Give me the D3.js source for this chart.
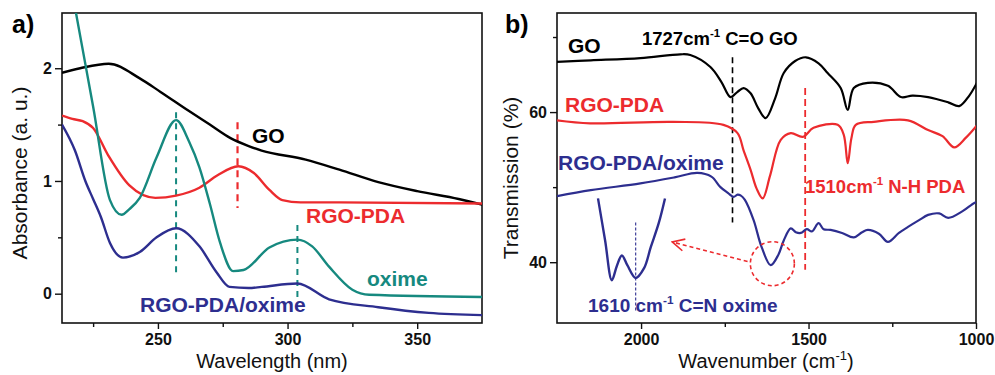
<!DOCTYPE html>
<html>
<head>
<meta charset="utf-8">
<script src="https://cdn.jsdelivr.net/npm/d3@7"></script>
<style>
  body { margin: 0; background: #fff; }
  text { font-family: "Liberation Sans", Arial, sans-serif; }
</style>
</head>
<body>
<div id="chart"></div>
<script>
let width = 995
let height = 375

// ---- panel a data (UV-vis)
let goWl = [213, 220, 231, 243, 251, 262, 270, 278, 285, 290, 307, 320, 335, 350, 366, 375]
let goAbs = [1.96, 2.0, 2.04, 1.91, 1.79, 1.62, 1.50, 1.38, 1.31, 1.27, 1.19, 1.10, 0.99, 0.91, 0.84, 0.79]

let pdaWl = [213, 217, 221, 225, 231, 239, 249, 257, 266, 273, 281, 287, 293, 298, 305, 320, 375]
let pdaAbs = [1.58, 1.55, 1.53, 1.47, 1.22, 0.96, 0.85, 0.87, 0.94, 1.05, 1.13, 1.07, 0.92, 0.83, 0.81, 0.81, 0.80]

let oxWl = [213, 218.4, 225, 231.5, 236, 239, 243, 249.5, 257, 262, 266, 270, 274, 279, 283, 293, 303.8, 309.5, 316, 325, 331.5, 375]
let oxAbs = [3.17, 2.49, 1.66, 0.83, 0.70, 0.75, 0.85, 1.21, 1.54, 1.35, 1.12, 0.80, 0.45, 0.20, 0.21, 0.41, 0.48, 0.42, 0.24, 0.035, -0.01, -0.03]

let mixWl = [213, 218, 222, 225, 228, 231.5, 236.5, 243, 249.5, 257, 266, 272.6, 277.6, 285, 290, 303.8, 316, 335, 354.5, 375]
let mixAbs = [1.50, 1.27, 1.0, 0.84, 0.68, 0.45, 0.32, 0.37, 0.50, 0.58, 0.42, 0.19, 0.06, 0.05, 0.06, 0.09, -0.05, -0.12, -0.17, -0.19]

let aTicks = [250, 300, 350]
let aMinor = [225, 275, 325]
let aYTicks = [0, 1, 2]
let aYMinor = [0.5, 1.5]

// ---- panel b data (FTIR)
let goWn = [2251, 2150, 2002, 1883, 1853, 1793, 1760, 1733, 1712, 1694, 1673, 1650, 1628, 1600, 1574, 1540, 1508, 1470, 1443, 1404, 1383, 1365, 1323, 1263, 1224, 1190, 1143, 1083, 1050, 1020, 996]
let goT = [66.7, 66.9, 67.2, 67.7, 67.6, 66.0, 64.0, 62.0, 62.7, 63.2, 62.5, 60.5, 59.2, 61.8, 65.2, 66.8, 67.3, 66.5, 65.2, 63.2, 60.3, 63.2, 63.9, 63.5, 62.0, 62.2, 62.0, 61.3, 60.8, 62.2, 64.0]

let pdaWn = [2251, 2152, 1904, 1754, 1712, 1694, 1673, 1655, 1637, 1615, 1583, 1553, 1517, 1485, 1413, 1395, 1383, 1372, 1359, 1305, 1203, 1143, 1100, 1065, 1030, 996]
let pdaT = [58.9, 58.5, 58.7, 58.3, 57.2, 54.9, 52.3, 49.8, 48.5, 51.5, 56.3, 57.2, 56.7, 57.9, 58.3, 57.0, 53.2, 56.5, 58.3, 58.7, 58.9, 57.6, 56.8, 55.3, 56.6, 58.3]

let mixWn = [2251, 2150, 2002, 1900, 1832, 1790, 1763, 1740, 1724, 1712, 1703, 1690, 1664, 1640, 1613, 1590, 1574, 1553, 1538, 1523, 1505, 1490, 1470, 1455, 1434, 1400, 1365, 1340, 1323, 1290, 1263, 1230, 1203, 1170, 1143, 1110, 1083, 1040, 1005, 996]
let mixT = [48.8, 49.6, 50.5, 51.3, 51.9, 51.4, 50.0, 49.2, 48.7, 49.0, 48.9, 48.3, 45.6, 42.0, 39.6, 41.0, 42.9, 44.5, 44.0, 43.9, 44.4, 44.1, 45.2, 44.4, 44.3, 43.9, 43.3, 44.0, 44.3, 43.8, 42.7, 43.9, 44.7, 45.6, 46.3, 46.5, 45.9, 46.8, 47.9, 48.0]

// inset: magnified band around 1610 cm-1
let insetWn = [1700, 1683, 1667, 1655, 1643, 1630, 1610, 1590, 1574, 1555, 1540]
let insetT = [48.5, 42.9, 37.6, 39.5, 40.9, 39.6, 37.9, 39.2, 42.0, 45.2, 48.5]

let bTicks = [2000, 1500, 1000]
let bMinor = [1750, 1250]
let bYTicks = [40, 60]
let bYMinor = [50, 70]

let cRed = '#ec2b2e'
let cTeal = '#16897f'
let cNavy = '#2d2e8f'

let svg = d3.select('#chart').append('svg')
  .attr('width', width)
  .attr('height', height)

// scales
let xA = d3.scaleLinear().domain([213, 375]).range([62, 482])
let yA = d3.scaleLinear().domain([-0.26, 2.49]).range([323, 13])
let xB = d3.scaleLinear().domain([2251, 1000]).range([557, 976])
let yB = d3.scaleLinear().domain([31.9, 73.2]).range([323, 13])
let xIn = d3.scaleLinear().domain([1700, 1540]).range([598, 665])

let defs = svg.append('defs')
defs.append('clipPath').attr('id', 'clipA').append('rect')
  .attr('x', 62).attr('y', 13).attr('width', 420).attr('height', 310)
defs.append('clipPath').attr('id', 'clipB').append('rect')
  .attr('x', 557).attr('y', 13).attr('width', 419).attr('height', 310)
defs.append('marker')
  .attr('id', 'arrowHead')
  .attr('viewBox', '0 0 14 14')
  .attr('refX', 13).attr('refY', 7)
  .attr('markerWidth', 14).attr('markerHeight', 14)
  .attr('markerUnits', 'userSpaceOnUse')
  .attr('orient', 'auto')
  .append('path')
  .attr('d', 'M1,1 L13,7 L1,13')
  .attr('fill', 'none')
  .attr('stroke', cRed)
  .attr('stroke-width', 1.6)

function drawAxes(x, y, xt, xm, yt, ym, fmt) {
  let g = svg.append('g')
  let b = y.range()[0], t = y.range()[1], l = x.range()[0], r = x.range()[1]
  g.append('g').attr('transform', `translate(0,${b})`)
    .call(d3.axisBottom(x).tickValues(xt).tickSize(6).tickSizeOuter(0).tickPadding(5).tickFormat(d3.format('d')))
  g.append('g').attr('transform', `translate(0,${b})`)
    .call(d3.axisBottom(x).tickValues(xm).tickSize(4).tickSizeOuter(0).tickFormat(''))
  g.append('g').attr('transform', `translate(${l},0)`)
    .call(d3.axisLeft(y).tickValues(yt).tickSize(7).tickSizeOuter(0).tickPadding(3).tickFormat(fmt))
  g.append('g').attr('transform', `translate(${l},0)`)
    .call(d3.axisLeft(y).tickValues(ym).tickSize(4).tickSizeOuter(0).tickFormat(''))
  g.selectAll('.domain').remove()
  g.selectAll('.tick line').attr('stroke', '#111').attr('stroke-width', 1.4)
  g.selectAll('.tick text')
    .style('font-family', '"Liberation Sans", Arial, sans-serif')
    .style('font-size', '16px').style('font-weight', 'bold').attr('fill', '#111')
  svg.append('rect')
    .attr('x', l).attr('y', t).attr('width', r - l).attr('height', b - t)
    .attr('fill', 'none').attr('stroke', '#111').attr('stroke-width', 1.6)
}

function drawLine(clip, x, y, xs, ys, color, w, curve) {
  let pts = xs.map((d, i) => [d, ys[i]])
  let line = d3.line().x(d => x(d[0])).y(d => y(d[1])).curve(curve || d3.curveCatmullRom.alpha(0.5))
  svg.append('path')
    .datum(pts)
    .attr('clip-path', clip ? `url(#${clip})` : null)
    .attr('d', line)
    .attr('fill', 'none')
    .attr('stroke', color)
    .attr('stroke-width', w)
    .attr('stroke-linejoin', 'round')
}

function vDash(x, y, xv, y0, y1, color, w, dash) {
  svg.append('line')
    .attr('x1', x(xv)).attr('x2', x(xv))
    .attr('y1', y(y0)).attr('y2', y(y1))
    .attr('stroke', color).attr('stroke-width', w).attr('stroke-dasharray', dash)
}

function label(x, y, txt, color, size, weight, anchor) {
  return svg.append('text')
    .attr('x', x).attr('y', y)
    .attr('fill', color)
    .attr('text-anchor', anchor || 'start')
    .style('font-size', size + 'px')
    .style('font-weight', weight || 'bold')
    .text(txt)
}

function supLabel(x, y, a, b, color, size) {
  let t = svg.append('text').attr('x', x).attr('y', y).attr('fill', color)
    .style('font-size', size + 'px').style('font-weight', 'bold')
  t.append('tspan').text(a)
  t.append('tspan').attr('dy', -8).style('font-size', (size * 0.62) + 'px').text('-1')
  t.append('tspan').attr('dy', 8).text(b)
}

// ---------------- panel a
drawAxes(xA, yA, aTicks, aMinor, aYTicks, aYMinor, d3.format('d'))

vDash(xA, yA, 257, 1.61, 0.19, cTeal, 2, '6,5')
vDash(xA, yA, 280.7, 1.52, 0.76, cRed, 2.2, '7,5')
vDash(xA, yA, 303.8, 0.61, -0.03, cTeal, 2, '6,5')

drawLine('clipA', xA, yA, goWl, goAbs, '#000', 2.4, d3.curveMonotoneX)
drawLine('clipA', xA, yA, pdaWl, pdaAbs, cRed, 2.4, d3.curveMonotoneX)
drawLine('clipA', xA, yA, oxWl, oxAbs, cTeal, 2.4, d3.curveMonotoneX)
drawLine('clipA', xA, yA, mixWl, mixAbs, cNavy, 2.4, d3.curveMonotoneX)

label(252, 143, 'GO', '#000', 21)
label(306, 223, 'RGO-PDA', cRed, 21)
label(367, 286, 'oxime', cTeal, 21)
label(140, 312, 'RGO-PDA/oxime', cNavy, 21)

label(12, 33, 'a)', '#000', 25)
label(272, 368, 'Wavelength (nm)', '#111', 20, 'normal', 'middle')
svg.append('text')
  .attr('transform', 'translate(27,173) rotate(-90)')
  .attr('text-anchor', 'middle')
  .attr('fill', '#111')
  .style('font-size', '21px')
  .text('Absorbance (a. u.)')

// ---------------- panel b
drawAxes(xB, yB, bTicks, bMinor, bYTicks, bYMinor, d3.format('d'))

vDash(xB, yB, 1727, 67.3, 45.3, '#000', 1.6, '6,4')
vDash(xB, yB, 1510, 63.2, 39, cRed, 1.8, '7,4')

drawLine('clipB', xB, yB, goWn, goT, '#000', 2.2)
drawLine('clipB', xB, yB, pdaWn, pdaT, cRed, 2.2)
drawLine('clipB', xB, yB, mixWn, mixT, cNavy, 2.2)

// inset
drawLine(null, xIn, yB, insetWn, insetT, cNavy, 2.4)
vDash(xIn, yB, 1610, 45.3, 33.3, cNavy, 1.1, '3,2')

// circle + arrow
svg.append('circle')
  .attr('cx', xB(1608)).attr('cy', yB(39.8)).attr('r', 22)
  .attr('fill', 'none').attr('stroke', cRed).attr('stroke-width', 1.6).attr('stroke-dasharray', '4,3')
svg.append('line')
  .attr('x1', xB(1682)).attr('y1', yB(40.1))
  .attr('x2', xB(1907)).attr('y2', yB(42.7))
  .attr('stroke', cRed).attr('stroke-width', 1.6).attr('stroke-dasharray', '4,3')
  .attr('marker-end', 'url(#arrowHead)')

label(568, 53, 'GO', '#000', 21)
label(565, 112, 'RGO-PDA', cRed, 21)
label(558, 170, 'RGO-PDA/oxime', cNavy, 21)
supLabel(642, 45, '1727cm', ' C=O GO', '#000', 18.5)
supLabel(805, 193, '1510cm', ' N-H PDA', cRed, 18.5)
supLabel(588, 312, '1610 cm', ' C=N oxime', cNavy, 19)

label(505, 33, 'b)', '#000', 25)
let xt = label(766, 368, 'Wavenumber (cm', '#111', 20, 'normal', 'middle')
xt.append('tspan').attr('dy', -8).style('font-size', '13px').text('-1')
xt.append('tspan').attr('dy', 8).text(')')
svg.append('text')
  .attr('transform', 'translate(518,178) rotate(-90)')
  .attr('text-anchor', 'middle')
  .attr('fill', '#111')
  .style('font-size', '21px')
  .text('Transmission (%)')
</script>
</body>
</html>
